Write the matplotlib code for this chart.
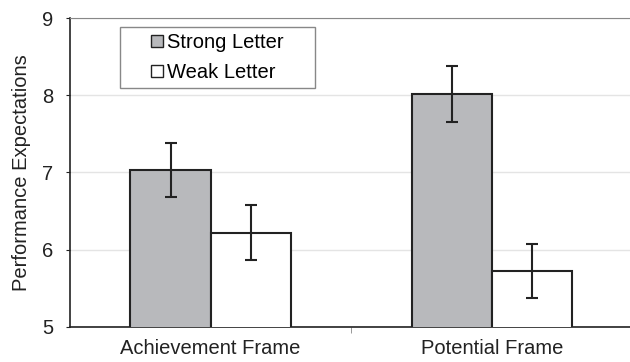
import matplotlib.pyplot as plt
import numpy as np
from matplotlib.patches import Rectangle

frames = ["Achievement Frame", "Potential Frame"]
strong = [7.03, 8.02]
strong_err = [0.35, 0.36]
weak = [6.22, 5.72]
weak_err = [0.36, 0.35]
series_names = ["Strong Letter", "Weak Letter"]

plt.rcParams['font.family'] = ['Liberation Sans', 'DejaVu Sans']
fs = 14.5

fig = plt.figure(figsize=(6.3, 3.62), dpi=100)
ax = fig.add_axes([0.111, 0.097, 0.889, 0.853])

x = np.arange(len(frames))
w = 0.285
ekw = dict(ecolor="#222222", elinewidth=1.5, capsize=4.5, capthick=1.5)
ax.bar(x - w / 2, strong, w, yerr=strong_err, color="#b8b9bc",
       edgecolor="#222222", linewidth=1.5, error_kw=ekw, label=series_names[0], zorder=3)
ax.bar(x + w / 2, weak, w, yerr=weak_err, color="white",
       edgecolor="#222222", linewidth=1.5, error_kw=ekw, label=series_names[1], zorder=3)

ax.set_ylim(5, 9)
ax.set_xlim(-0.5, 1.49)
ax.set_yticks([5, 6, 7, 8, 9])
ax.yaxis.grid(True, color="#e4e4e4", linewidth=1, zorder=0)
ax.set_axisbelow(True)

ax.spines["right"].set_visible(False)
ax.spines["top"].set_color("#888888")
ax.spines["left"].set_color("#222222")
ax.spines["bottom"].set_color("#222222")
ax.spines["left"].set_linewidth(1.2)
ax.spines["bottom"].set_linewidth(1.2)

ax.set_xticks(x)
ax.set_xticklabels(frames, fontsize=fs, color="#222222")
ax.set_xticks([0.5], minor=True)
ax.tick_params(axis="x", which="major", length=0, pad=9)
ax.tick_params(axis="x", which="minor", length=4, color="#888888")
ax.tick_params(axis="y", length=3, color="#222222", labelsize=fs,
               labelcolor="#222222", pad=9)
ax.set_ylabel("Performance Expectations", fontsize=fs, color="#222222", labelpad=8)

# legend box drawn separately so it can be wider than its entries
ax.add_patch(Rectangle((0.0893, 0.773), 0.348, 0.198, transform=ax.transAxes,
                       facecolor="white", edgecolor="#888888", linewidth=1, zorder=4))
leg = ax.legend(loc="center", bbox_to_anchor=(0.263, 0.872), frameon=False,
                fontsize=fs, handlelength=0.6, handleheight=0.6,
                handletextpad=0.2, borderpad=0, labelspacing=0.55, borderaxespad=0)
leg.set_zorder(5)
for h in leg.legend_handles:
    h.set_linewidth(1)

fig.savefig("out.png", dpi=100)
